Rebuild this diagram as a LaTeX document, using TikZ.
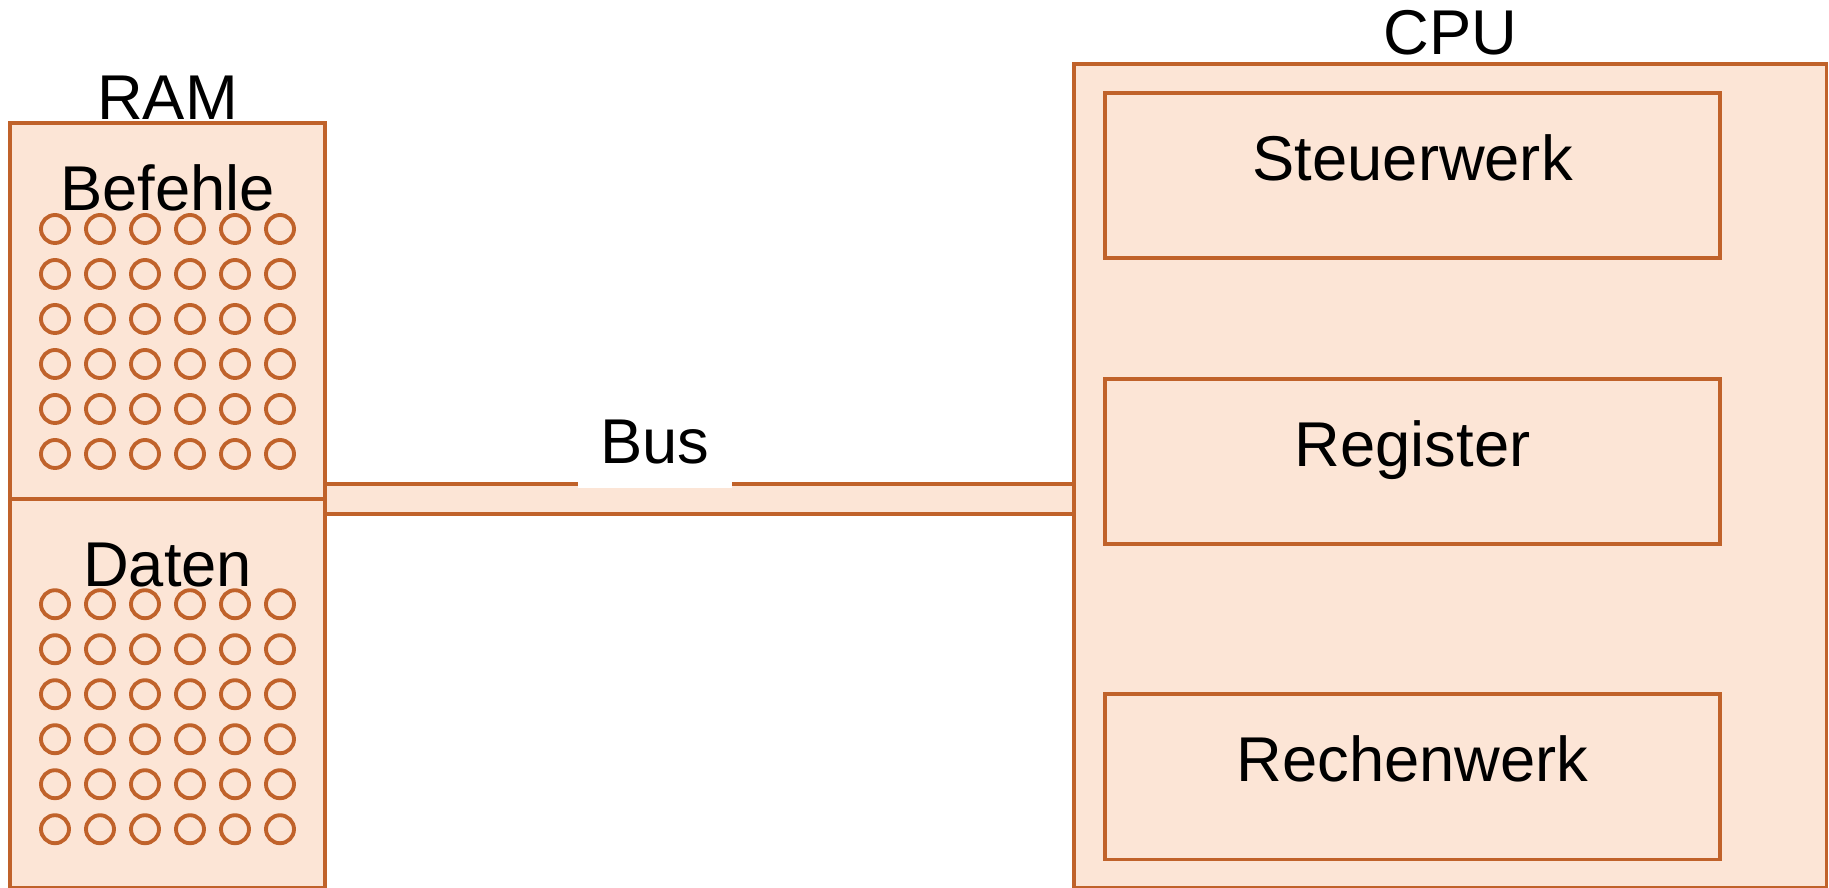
\documentclass[tikz,border=0pt]{standalone}
\usepackage{fontspec}
\setmainfont{Liberation Sans}
\usetikzlibrary{
    positioning,
    backgrounds
    }

\definecolor{rim}{RGB}{192,98,42}
\definecolor{peach}{RGB}{252,229,214}

\begin{document}
\begin{tikzpicture}[x=0.01cm, y=-0.01cm]
\tikzset{unit/.style =
        {
            rectangle,
            draw=rim,
            line width=1.1pt,
            fill=peach,
            inner sep=0cm,
            outer sep=0cm
        }
}

\tikzset{caption/.style =
        {
            label={[inner sep=0cm, anchor=base, yshift=-0.87cm, font=\fontsize{18}{20}\selectfont]north:#1}
        }
}

\tikzset{heading/.style =
        {
            inner sep=0cm,
            font=\fontsize{18}{20}\selectfont
        }
}

\tikzset{cell/.style = { draw=rim, line width=1.1pt } }

\tikzset{wire/.style = { draw=rim, line width=1.1pt } }

		\useasboundingbox (0,0) rectangle (1829,888);

		% main memory, split in two
		\node[unit, anchor=north west, minimum width=3.15cm, minimum height=3.76cm, caption=Befehle] (ram-befehle) at (10,123) {};
		\node[unit, below=0cm of ram-befehle, minimum width=3.15cm, minimum height=3.88cm, caption=Daten] (ram-daten) {};
		\node[heading, above=0.03cm of ram-befehle] (ram) {RAM};

		\foreach \part / \dy in {ram-befehle/106, ram-daten/105}
		\foreach \row in {0,...,5}
		\foreach \col in {0,...,5}
		\draw[cell] ([shift={(45+45*\col, \dy+45*\row)}]\part.north west) circle [radius=0.14cm];

		% processor
		\node[unit, anchor=north west, minimum width=7.52cm, minimum height=8.23cm] (cpu) at (1074,64) {};
		\node[heading, above=0.08cm of cpu] (cpu-title) {CPU};

		\node[unit, anchor=north west, minimum width=6.15cm, minimum height=1.65cm, caption=Steuerwerk] (steuerwerk) at ([shift={(31,29)}]cpu.north west) {};
		\node[unit, below=1.21cm of steuerwerk, minimum width=6.15cm, minimum height=1.65cm, caption=Register] (register) {};
		\node[unit, below=1.5cm of register, minimum width=6.15cm, minimum height=1.65cm, caption=Rechenwerk] (rechenwerk) {};

		% bus between memory and processor
		\coordinate[above=0.15cm of ram-befehle.south east] (bus-a);
		\coordinate[below=0.15cm of ram-befehle.south east] (bus-b);

		\begin{scope}[on background layer]
			\fill[peach] (bus-a) rectangle (bus-b -| cpu.west);
		\end{scope}
		\draw[wire] (bus-a) -- (bus-a -| cpu.west);
		\draw[wire] (bus-b) -- (bus-b -| cpu.west);

		\node[heading, fill=white, anchor=south, inner xsep=0.22cm, inner ysep=0.23cm] (bus) at ([yshift=-0.04cm]bus-a -| 655,0) {Bus};

	\end{tikzpicture}
\end{document}
